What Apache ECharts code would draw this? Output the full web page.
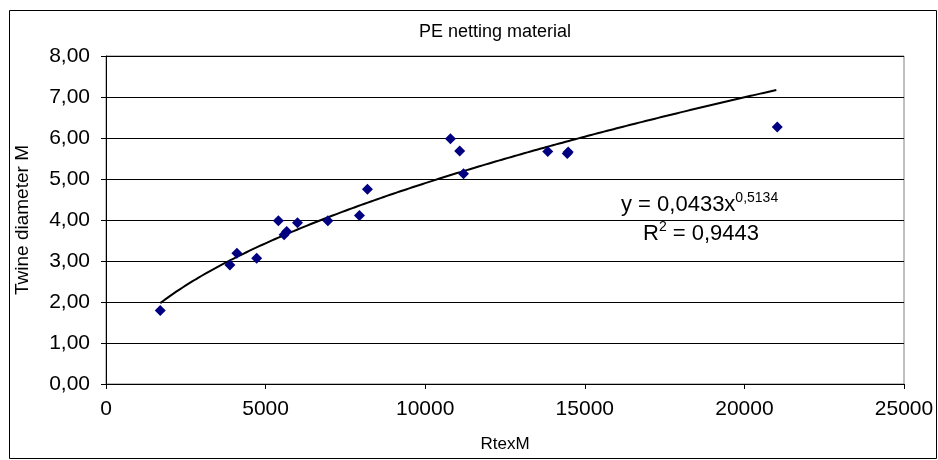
<!DOCTYPE html>
<html>
<head>
<meta charset="utf-8">
<script src="https://cdn.jsdelivr.net/npm/echarts@6/dist/echarts.min.js"></script>
<style>html,body{margin:0;padding:0;background:#fff;}#c{width:938px;height:460px;}</style>
</head>
<body>
<div id="c"></div>
<script>
var chartTitle = 'PE netting material';
var xName = 'RtexM';
var yName = 'Twine diameter M';
var rtexM = [1700, 3880, 4100, 4720, 5400, 5580, 5660, 6000, 6950, 7940, 8190, 10790, 11080, 11200, 13840, 14450, 14480, 21030];
var twineDiameter = [1.79, 2.90, 3.19, 3.07, 3.98, 3.64, 3.72, 3.93, 3.98, 4.11, 4.75, 5.98, 5.68, 5.13, 5.67, 5.62, 5.66, 6.27];
var trendCoef = 0.0433;
var trendExp = 0.5134;
var rSquared = '0,9443';
var trendRange = [1700, 21000];

var scatterData = rtexM.map(function (x, i) { return [x, twineDiameter[i]]; });
var trendData = [];
for (var x = trendRange[0]; x <= trendRange[1]; x += 100) {
  trendData.push([x, trendCoef * Math.pow(x, trendExp)]);
}
function comma(v, d) { return v.toFixed(d).replace('.', ','); }

var font = 'Liberation Sans, Arial, sans-serif';
var chart = echarts.init(document.getElementById('c'), null, {renderer: 'canvas'});
chart.setOption({
  animation: false,
  backgroundColor: '#fff',
  title: {
    text: chartTitle, left: 490, top: 18, textAlign: 'center',
    textStyle: {fontFamily: font, fontSize: 18, fontWeight: 'normal', color: '#000'}
  },
  grid: {left: 106, top: 56, right: 34, bottom: 76, show: true, borderColor: '#808080', borderWidth: 1},
  xAxis: {
    type: 'value', min: 0, max: 25000, interval: 5000,
    name: xName, nameLocation: 'middle', nameGap: 52,
    nameTextStyle: {fontFamily: font, fontSize: 17, color: '#000'},
    axisLine: {show: true, lineStyle: {color: '#000', width: 1}},
    axisTick: {show: true, inside: false, length: 5, lineStyle: {color: '#000'}},
    axisLabel: {fontFamily: font, fontSize: 21, color: '#000', margin: 15, formatter: function (v) { return String(v); }},
    splitLine: {show: false}
  },
  yAxis: {
    type: 'value', min: 0, max: 8, interval: 1,
    name: yName, nameLocation: 'middle', nameGap: 74, nameRotate: 90,
    nameTextStyle: {fontFamily: font, fontSize: 19, color: '#000'},
    axisLine: {show: true, lineStyle: {color: '#000', width: 1}},
    axisTick: {show: true, inside: false, length: 5, lineStyle: {color: '#000'}},
    axisLabel: {fontFamily: font, fontSize: 21, color: '#000', margin: 16, formatter: function (v) { return comma(v, 2); }},
    splitLine: {show: true, lineStyle: {color: '#000', width: 1}}
  },
  series: [
    {
      type: 'line', data: trendData, showSymbol: false, symbol: 'none', smooth: false,
      lineStyle: {color: '#000', width: 2}, z: 2
    },
    {
      type: 'scatter', data: scatterData, symbol: 'diamond', symbolSize: 11,
      itemStyle: {color: '#000080', opacity: 1}, z: 3
    }
  ],
  graphic: [
    {type: 'rect', shape: {x: 9.5, y: 10.5, width: 927, height: 448}, style: {fill: null, stroke: '#000', lineWidth: 1}, silent: true},
    {
      type: 'text', left: 621, top: 191,
      style: {
        text: '{b|y = ' + comma(trendCoef, 4) + 'x}{s|' + comma(trendExp, 4) + '}',
        rich: {
          b: {fontFamily: font, fontSize: 22, color: '#000', lineHeight: 28},
          s: {fontFamily: font, fontSize: 14, color: '#000', lineHeight: 28, padding: [0, 0, 14, 0]}
        }
      }
    },
    {
      type: 'text', left: 643, top: 220,
      style: {
        text: '{b|R}{s|2}{b| = ' + rSquared + '}',
        rich: {
          b: {fontFamily: font, fontSize: 22, color: '#000', lineHeight: 28},
          s: {fontFamily: font, fontSize: 14, color: '#000', lineHeight: 28, padding: [0, 0, 14, 0]}
        }
      }
    }
  ]
});
</script>
</body>
</html>
